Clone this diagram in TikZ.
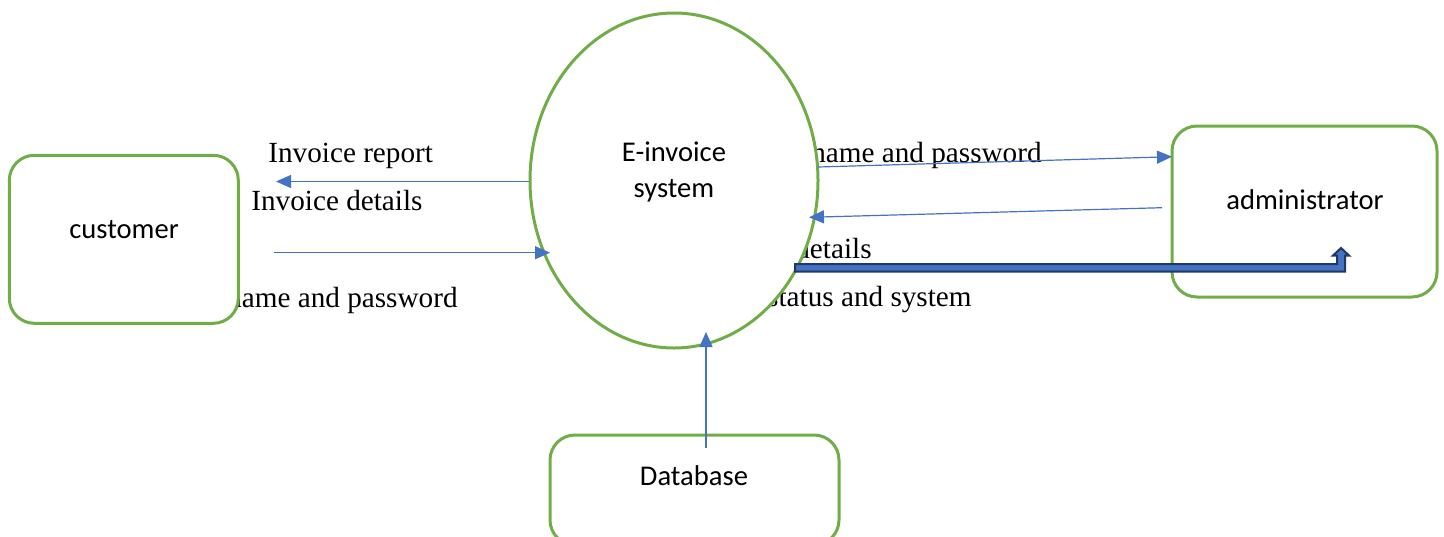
\documentclass[tikz,border=0pt]{standalone}
\usepackage{fontspec}
\setmainfont{Liberation Serif}
\newfontfamily\calibri{Carlito}
\usetikzlibrary{arrows.meta,shapes.geometric}
\definecolor{bordergreen}{HTML}{70AD47}
\definecolor{flowblue}{HTML}{4472C4}
\definecolor{navy}{HTML}{1F3864}
\tikzset{
  entity/.style={draw=bordergreen, line width=1.5pt, fill=white, rounded corners=12.5pt, inner sep=0pt},
  process/.style={draw=bordergreen, line width=1.5pt, fill=white, ellipse, inner sep=0pt},
  flowlabel/.style={font=\fontsize{14.6}{17}\selectfont, inner sep=0pt},
  boxlabel/.style={font=\calibri\fontsize{14.3}{18.5}\selectfont, inner sep=0pt, anchor=base},
  flow/.style={draw=flowblue, line width=0.6pt, -{Triangle[length=7.5pt,width=6.5pt]}},
}
\begin{document}
\begin{tikzpicture}[x=0.5pt,y=-0.5pt]
\useasboundingbox (0,0) rectangle (1444,536);
\clip (0,0) rectangle (1444,536);
% labels (drawn first, partly hidden by shapes)
\node[flowlabel, anchor=base west] (lreport) at (268,162) {Invoice report};
\node[flowlabel, anchor=base west] (ldetails) at (251,210) {Invoice details};
\node[flowlabel, anchor=base east] (lnamepw) at (458,307) {name and password};
\node[flowlabel, anchor=base east] (rnamepw) at (1042,162) {name and password};
\node[flowlabel, anchor=base east] (rdetails) at (872,258) {details};
\node[flowlabel, anchor=base east] (rstatus) at (972,306) {status and system};
% shapes
\node[entity, minimum width=114.5pt, minimum height=84pt] (customer) at (123.8,239.3) {};
\node[entity, minimum width=132.5pt, minimum height=85.5pt] (admin) at (1304.5,211.5) {};
\node[entity, minimum width=144.5pt, minimum height=55pt] (db) at (694.5,490) {};
\node[process, minimum width=144pt, minimum height=167.5pt] (sys) at (674,180.5) {};
% shape texts
\node[boxlabel] (tcustomer) at (124,238) {customer};
\node[boxlabel] (tadmin) at (1305,209) {administrator};
\node[boxlabel] (tdb) at (694,485) {Database};
\node[boxlabel] (tsys1) at (674,161) {E-invoice};
\node[boxlabel] (tsys2) at (674,197) {system};
% connector end points
\coordinate (a1s) at (529,181.5);
\coordinate (a1e) at (276,181.5);
\coordinate (a2s) at (274,252.7);
\coordinate (a2e) at (550,252.7);
\coordinate (a3s) at (818,167);
\coordinate (a3e) at (1172,156.7);
\coordinate (a4s) at (1162,207.7);
\coordinate (a4e) at (809,217.3);
\coordinate (a5s) at (706,448);
\coordinate (a5e) at (706,332);
% thin flows
\draw[flow] (a1s) -- (a1e);
\draw[flow] (a2s) -- (a2e);
\draw[flow] (a3s) -- (a3e);
\draw[flow] (a4s) -- (a4e);
\draw[flow] (a5s) -- (a5e);
% thick bent-up block arrow
\draw[draw=navy, fill=flowblue, line width=1pt, line join=miter]
  (795,264) -- (1337,264) -- (1337,255.5) -- (1333,255.5) -- (1341,248)
  -- (1349,255.5) -- (1345,255.5) -- (1345,271.5) -- (795,271.5) -- cycle;
\end{tikzpicture}
\end{document}
